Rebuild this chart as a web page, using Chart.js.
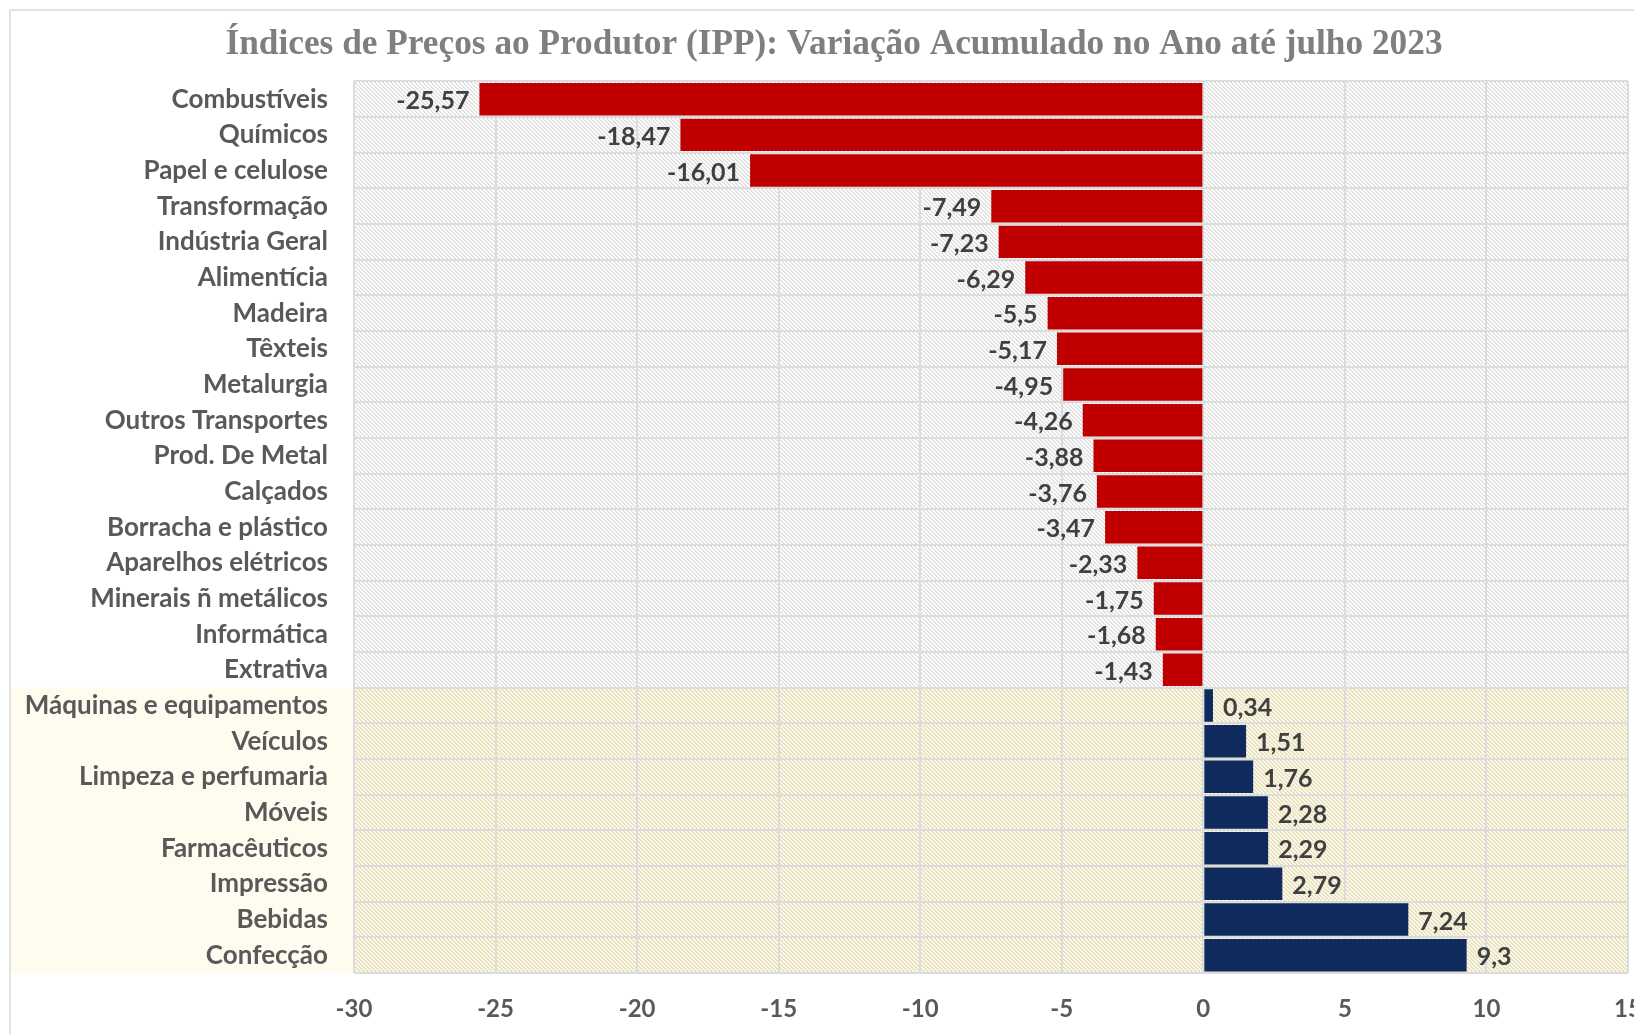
<!DOCTYPE html>
<html>
<head>
<meta charset="utf-8">
<script src="https://cdn.jsdelivr.net/npm/chart.js@4.4.0/dist/chart.umd.min.js"></script>
<style>
  html, body { margin: 0; padding: 0; background: #ffffff; overflow: hidden; }
  #wrap { position: absolute; left: 0; top: 0; }
  canvas { display: block; }
</style>
</head>
<body>
<div id="wrap"><canvas id="c" width="1668" height="1050"></canvas></div>
<script>
const titleText = 'Índices de Preços ao Produtor (IPP): Variação Acumulado no Ano até julho 2023';
const categories = ['Combustíveis','Químicos','Papel e celulose','Transformação','Indústria Geral','Alimentícia','Madeira','Têxteis','Metalurgia','Outros Transportes','Prod. De Metal','Calçados','Borracha e plástico','Aparelhos elétricos','Minerais ñ metálicos','Informática','Extrativa','Máquinas e equipamentos','Veículos','Limpeza e perfumaria','Móveis','Farmacêuticos','Impressão','Bebidas','Confecção'];
const values = [-25.57,-18.47,-16.01,-7.49,-7.23,-6.29,-5.5,-5.17,-4.95,-4.26,-3.88,-3.76,-3.47,-2.33,-1.75,-1.68,-1.43,0.34,1.51,1.76,2.28,2.29,2.79,7.24,9.3];
const xMin = -30, xMax = 15, xStep = 5;

const RED = '#c00000', NAVY = '#0f2a5c';
const canvas = document.getElementById('c');
const ctx = canvas.getContext('2d');

function makePattern(bg, fg) {
  const c = document.createElement('canvas');
  c.width = 4; c.height = 4;
  const g = c.getContext('2d');
  g.fillStyle = bg; g.fillRect(0, 0, 4, 4);
  g.fillStyle = fg;
  for (let i = 0; i < 4; i++) { g.fillRect(i, i, 1, 1); g.fillRect((i + 1) % 4, i, 1, 1); }
  return ctx.createPattern(c, 'repeat');
}
const grayHatch = makePattern('#ffffff', '#e2e2e2');
const creamHatch = makePattern('#fefaea', '#e8e0c2');

const backgroundPlugin = {
  id: 'bgHatch',
  afterLayout(chart) {
    // let the category labels use the full left margin (no clipping at the layout padding)
    chart.scales.y.left = 0;
  },
  beforeDraw(chart) {
    const c = chart.ctx, a = chart.chartArea, y = chart.scales.y;
    c.save();
    c.fillStyle = '#ffffff';
    c.fillRect(0, 0, chart.width, chart.height);
    const half = Math.abs(y.getPixelForValue(1) - y.getPixelForValue(0)) / 2;
    values.forEach((v, i) => {
      const cy = y.getPixelForValue(i);
      c.fillStyle = v < 0 ? grayHatch : creamHatch;
      c.fillRect(a.left, cy - half, a.right - a.left, 2 * half);
      if (v >= 0) {
        c.fillStyle = '#fffbee';
        c.fillRect(11, cy - half, a.left - 11, 2 * half);
      }
    });
    c.strokeStyle = '#d9d9d9';
    c.lineWidth = 1.5;
    c.strokeRect(10, 10, chart.width - 20, chart.height - 10);
    c.restore();
  }
};

const labelPlugin = {
  id: 'valueLabels',
  afterDatasetsDraw(chart) {
    const c = chart.ctx;
    const meta = chart.getDatasetMeta(0);
    c.save();
    c.font = 'bold 25px Lato';
    c.fillStyle = '#404040';
    c.textBaseline = 'middle';
    meta.data.forEach((el, i) => {
      const v = values[i];
      const txt = String(v).replace('.', ',');
      if (v < 0) { c.textAlign = 'right'; c.fillText(txt, el.x - 10, el.y + 2); }
      else { c.textAlign = 'left'; c.fillText(txt, el.x + 10, el.y + 2); }
    });
    c.restore();
  }
};

new Chart(ctx, {
  type: 'bar',
  data: {
    labels: categories,
    datasets: [{
      data: values,
      backgroundColor: values.map(v => v < 0 ? RED : NAVY),
      borderWidth: 0,
      categoryPercentage: 1.0,
      barPercentage: 0.91
    }]
  },
  options: {
    indexAxis: 'y',
    responsive: false,
    devicePixelRatio: 1,
    animation: false,
    layout: { padding: { left: 40, right: 40, top: 0, bottom: 0 } },
    plugins: {
      legend: { display: false },
      tooltip: { enabled: false },
      title: {
        display: true,
        text: titleText,
        color: '#7f7f7f',
        font: { family: 'Liberation Serif', size: 35.3, weight: 'bold' },
        padding: { top: 24, bottom: 15 }
      }
    },
    scales: {
      x: {
        min: xMin, max: xMax,
        ticks: { stepSize: xStep, color: '#595959', font: { family: 'Lato', size: 24, weight: 'bold' }, padding: 22 },
        grid: { color: '#dcdcdc', lineWidth: 2, drawTicks: false },
        border: { display: false },
        afterFit(scale) { scale.height = 1050 - 973; }
      },
      y: {
        ticks: { color: '#595959', font: { family: 'Lato', size: 26, weight: 'bold' }, padding: 26, autoSkip: false },
        grid: { color: '#dcdcdc', lineWidth: 2, drawTicks: false, offset: true },
        border: { display: false },
        afterFit(scale) { scale.width = 314; }
      }
    }
  },
  plugins: [backgroundPlugin, labelPlugin]
});
</script>
</body>
</html>
